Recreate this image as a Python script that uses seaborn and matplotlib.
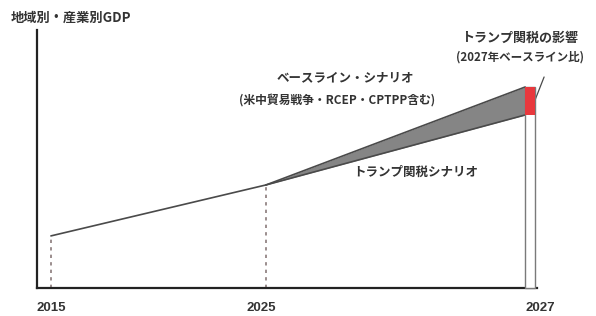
import matplotlib
matplotlib.use("Agg")
import matplotlib.pyplot as plt
import seaborn as sns
import pandas as pd

# conceptual chart: positions on a schematic time axis (not to scale)
years = ["2015", "2025", "2027"]
year_pos = [0.0, 1.0, 2.205]
common_gdp = [52, 103]          # 2015 -> 2025
baseline_gdp = [103, 201]       # 2025 -> 2027 baseline
tariff_gdp = [103, 173]         # 2025 -> 2027 tariff scenario

sns.set_style("white")
plt.rcParams["font.family"] = ["Noto Sans CJK JP", "DejaVu Sans"]

fig, ax = plt.subplots(figsize=(5.96, 3.16), dpi=100)
fig.subplots_adjust(left=0.062, right=0.901, bottom=0.089, top=0.905)

line_col = "#4a4a4a"
txt_col = "#333333"

df_common = pd.DataFrame({"x": year_pos[:2], "y": common_gdp})
df_base = pd.DataFrame({"x": year_pos[1:], "y": baseline_gdp})
df_tariff = pd.DataFrame({"x": year_pos[1:], "y": tariff_gdp})

ax.fill_between(year_pos[1:], tariff_gdp, baseline_gdp, color="#858585", lw=0)
sns.lineplot(data=df_common, x="x", y="y", ax=ax, color=line_col, lw=1.2)
sns.lineplot(data=df_base, x="x", y="y", ax=ax, color=line_col, lw=1.2)
sns.lineplot(data=df_tariff, x="x", y="y", ax=ax, color=line_col, lw=1.2)

# dashed drop lines
for xp, yv in zip(year_pos[:2], common_gdp):
    ax.plot([xp, xp], [0, yv], ls=(0, (2, 2.5)), color="#8a7a7a", lw=1.2)

# 2027 column with tariff impact
bw = 0.046
ax.bar(year_pos[2], baseline_gdp[1], width=bw, align="edge", color="white",
       edgecolor="#7a7a7a", lw=1.0, zorder=3, clip_on=False)
ax.bar(year_pos[2], baseline_gdp[1] - tariff_gdp[1], bottom=tariff_gdp[1], width=bw,
       align="edge", color="#e8383d", lw=0, zorder=4, clip_on=False)
ax.plot([year_pos[2] + bw, year_pos[2] + bw + 0.042], [188, 211], color=line_col,
        lw=0.9, clip_on=False)

ax.set_xlim(-0.065, 2.26)
ax.set_ylim(0, 258)
ax.set_xticks([])
ax.set_yticks([])
ax.set_xlabel("")
ax.set_ylabel("")
sns.despine(ax=ax)
for s in ["left", "bottom"]:
    ax.spines[s].set_linewidth(1.6)
    ax.spines[s].set_color("#222222")

for xp, lab, dx in zip(year_pos, years, [0.0, -0.02, 0.07]):
    ax.text(xp + dx, -20, lab, ha="center", va="center", fontsize=9.5,
            fontweight="bold", color=txt_col, family=["Liberation Sans", "DejaVu Sans"])

fig.text(0.018, 0.945, "地域別・産業別GDP", fontsize=9.5, fontweight="bold",
         color=txt_col, ha="left", va="center")
ax.text(1.37, 210, "ベースライン・シナリオ", fontsize=9, fontweight="bold",
        color=txt_col, ha="center", va="center")
ax.text(1.33, 188, "(米中貿易戦争・RCEP・CPTPP含む)", fontsize=8.5, fontweight="bold",
        color=txt_col, ha="center", va="center")
ax.text(1.405, 116, "トランプ関税シナリオ", fontsize=9, fontweight="bold",
        color=txt_col, ha="left", va="center")
ax.text(2.18, 250, "トランプ関税の影響", fontsize=9.4, fontweight="bold",
        color=txt_col, ha="center", va="center", clip_on=False)
ax.text(2.18, 231, "(2027年ベースライン比)", fontsize=8.3, fontweight="bold",
        color=txt_col, ha="center", va="center", clip_on=False)

fig.savefig("out.png", dpi=100)
